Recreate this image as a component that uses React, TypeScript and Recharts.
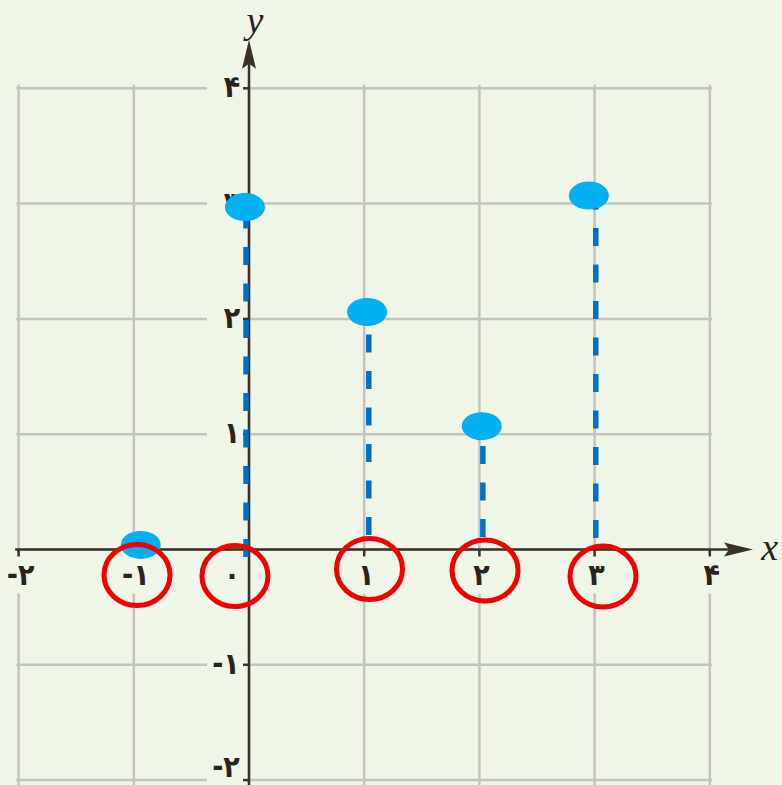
import React from 'react';
import { ScatterChart, Scatter, XAxis, YAxis } from 'recharts';

// ---- data ----
const xTicks = [-2, -1, 0, 1, 2, 3, 4];
const xTickLabels = ['-۲', '-۱', '۰', '۱', '۲', '۳', '۴'];
const yTicks = [4, 3, 2, 1, -1, -2];
const yTickLabels = ['۴', '۳', '۲', '۱', '-۱', '-۲'];
const gridLines = [-2, -1, 0, 1, 2, 3, 4];

// original plotted points (dark dots under the highlights)
const pointX = [-1, 0, 1, 2, 3];
const pointY = [0, 3, 2, 1, 3];
// blue highlight markers (hand-drawn, slightly offset)
const markerX = [-0.94, -0.035, 1.025, 2.02, 2.95];
const markerY = [0.04, 2.97, 2.06, 1.07, 3.07];
// dashed stems
const stemX = [-0.026, 1.04, 2.03, 3.01];
const stemBottom = [-0.065, 0.126, 0.108, 0.1];
const stemTop = [2.95, 2.04, 1.05, 3.04];
// red circles around x tick labels
const circleX = [-0.972, -0.122, 1.046, 2.049, 3.073];
const circleY = [-0.221, -0.23, -0.169, -0.182, -0.234];

// axis extents
const xAxisFrom = -2.03;
const xArrowTip = 4.375;
const yAxisFrom = -2.1;
const yArrowTip = 4.42;

// ---- styles ----
const BG = '#eff5e7';
const GRID = '#c3c4c0';
const AXIS = '#3a3129';
const TEXT = '#2a231d';
const FONT = '"DejaVu Sans Condensed", "DejaVu Sans", sans-serif';
const FS = 30;

const Nothing = () => <g />;

const XLabel = (p: any) => {
  const { cx, cy, payload } = p;
  const dx = payload.x === 0 ? -17 : 2;
  return (
    <g>
      <rect x={cx + dx - 17} y={cy + 3} width={34} height={41} fill={BG} />
      {payload.x !== 0 && (
        <line x1={cx} y1={cy} x2={cx} y2={cy + 7} stroke={AXIS} strokeWidth={2.5} />
      )}
      <text
        x={cx + dx}
        y={cy + 36}
        textAnchor="middle"
        fontFamily={FONT}
        fontWeight="bold"
        fontSize={FS}
        fill={TEXT}
      >
        {payload.label}
      </text>
    </g>
  );
};

const YLabel = (p: any) => {
  const { cx, cy, payload } = p;
  const neg = payload.y < 0;
  const tx = neg ? cx - 23 : cx - 17;
  return (
    <g>
      <rect x={cx - 42} y={cy - 16} width={40} height={30} fill={BG} />
      <line x1={cx - 6} y1={cy} x2={cx} y2={cy} stroke={AXIS} strokeWidth={2.5} />
      <text
        x={tx}
        y={Math.min(cy + 9, 777)}
        textAnchor="middle"
        fontFamily={FONT}
        fontWeight="bold"
        fontSize={FS}
        fill={TEXT}
      >
        {payload.label}
      </text>
    </g>
  );
};

const ArrowRight = (p: any) => {
  const { cx, cy } = p;
  return (
    <path
      d={`M${cx},${cy} L${cx - 29},${cy - 7} L${cx - 24},${cy} L${cx - 29},${cy + 7} Z`}
      fill={AXIS}
    />
  );
};

const ArrowUp = (p: any) => {
  const { cx, cy } = p;
  return (
    <path
      d={`M${cx},${cy} L${cx - 7},${cy + 29} L${cx},${cy + 24} L${cx + 7},${cy + 29} Z`}
      fill={AXIS}
    />
  );
};

const AxisName = (p: any) => {
  const { cx, cy, payload } = p;
  return (
    <text
      x={cx}
      y={cy}
      textAnchor="middle"
      dominantBaseline="central"
      fontFamily='"Liberation Serif", "DejaVu Serif", serif'
      fontStyle="italic"
      fontSize={38}
      fill={TEXT}
    >
      {payload.label}
    </text>
  );
};

const DarkDot = (p: any) => <circle cx={p.cx} cy={p.cy} r={6} fill="#3a3530" />;
const BlueMarker = (p: any) => <ellipse cx={p.cx} cy={p.cy} rx={20} ry={14} fill="#00b0f0" />;
const RedCircle = (p: any) => (
  <ellipse cx={p.cx} cy={p.cy} rx={33} ry={30.5} fill="none" stroke="#f20000" strokeWidth={5} />
);

export default function App() {
  const vLines = gridLines.map((x) => [
    { x, y: -2.1 },
    { x, y: 4.03 },
  ]);
  const hLines = gridLines.map((y) => [
    { x: -2.02, y },
    { x: 4.02, y },
  ]);
  const xLabelData = xTicks.map((x, i) => ({ x, y: 0, label: xTickLabels[i] }));
  const yLabelData = yTicks.map((y, i) => ({ x: 0, y, label: yTickLabels[i] }));
  const stems = stemX.map((x, i) => [
    { x, y: stemBottom[i] },
    { x, y: stemTop[i] },
  ]);
  const points = pointX.map((x, i) => ({ x, y: pointY[i] }));
  const markers = markerX.map((x, i) => ({ x, y: markerY[i] }));
  const circles = circleX.map((x, i) => ({ x, y: circleY[i] }));

  return (
    <div style={{ position: 'absolute', left: 0, top: 0, width: 782, height: 785, background: BG }}>
      <ScatterChart width={782} height={785} margin={{ top: 0, right: 0, bottom: 0, left: 0 }}>
        <XAxis type="number" dataKey="x" domain={[-2.1615, 4.6267]} allowDataOverflow hide />
        <YAxis type="number" dataKey="y" domain={[-2.0425, 4.7658]} allowDataOverflow hide />

        {vLines.map((d, i) => (
          <Scatter key={'v' + i} data={d} isAnimationActive={false} shape={Nothing}
            line={{ stroke: GRID, strokeWidth: 2.5 }} lineType="joint" />
        ))}
        {hLines.map((d, i) => (
          <Scatter key={'h' + i} data={d} isAnimationActive={false} shape={Nothing}
            line={{ stroke: GRID, strokeWidth: 2.5 }} lineType="joint" />
        ))}

        <Scatter data={xLabelData} isAnimationActive={false} shape={XLabel} />
        <Scatter data={yLabelData} isAnimationActive={false} shape={YLabel} />

        <Scatter data={[{ x: xAxisFrom, y: 0 }, { x: xArrowTip - 0.15, y: 0 }]} isAnimationActive={false}
          shape={Nothing} line={{ stroke: AXIS, strokeWidth: 2.5 }} lineType="joint" />
        <Scatter data={[{ x: 0, y: yAxisFrom }, { x: 0, y: yArrowTip - 0.15 }]} isAnimationActive={false}
          shape={Nothing} line={{ stroke: AXIS, strokeWidth: 2.5 }} lineType="joint" />
        <Scatter data={[{ x: xArrowTip, y: 0 }]} isAnimationActive={false} shape={ArrowRight} />
        <Scatter data={[{ x: 0, y: yArrowTip }]} isAnimationActive={false} shape={ArrowUp} />
        <Scatter data={[{ x: 4.52, y: 0.02, label: 'x' }, { x: 0.052, y: 4.59, label: 'y' }]}
          isAnimationActive={false} shape={AxisName} />

        {stems.map((d, i) => (
          <Scatter key={'s' + i} data={d} isAnimationActive={false} shape={Nothing}
            line={{ stroke: '#0070c0', strokeWidth: 5.5, strokeDasharray: '18 18.5' }} lineType="joint" />
        ))}

        <Scatter data={points} isAnimationActive={false} shape={DarkDot} />
        <Scatter data={markers} isAnimationActive={false} shape={BlueMarker} />
        <Scatter data={circles} isAnimationActive={false} shape={RedCircle} />
      </ScatterChart>
    </div>
  );
}
